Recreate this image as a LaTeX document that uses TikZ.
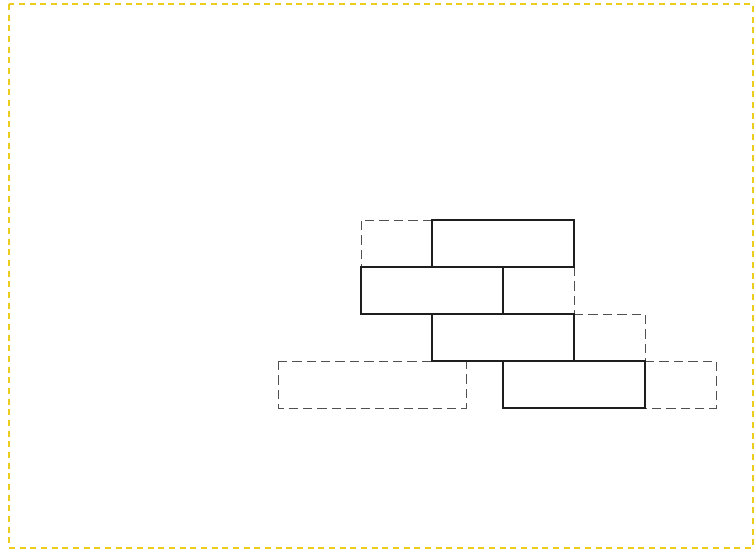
\documentclass[tikz,border=0pt]{standalone}
\usepackage{xcolor}
\usepackage{tikz}
\definecolor{AmarilloMarco}{RGB}{236,204,30}
\definecolor{GrisHueco}{RGB}{80,80,80}
\definecolor{NegroLadrillo}{RGB}{30,30,30}

\begin{document}
\begin{tikzpicture}[x=0.75pt,y=-0.75pt]
  \useasboundingbox (0,0) rectangle (756,554);
  \draw[AmarilloMarco,line width=1.5pt,dash pattern=on 4.5pt off 3.5pt]
       (9,4) rectangle (753,548);

  % huecos (dashed)
  \draw[GrisHueco,line width=0.7pt,dash pattern=on 7pt off 3.8pt]
       (432,220) -- (361,220) -- (361,267);
  \draw[GrisHueco,line width=0.7pt,dash pattern=on 7pt off 3.8pt]
       (574,267) -- (574,314);
  \draw[GrisHueco,line width=0.7pt,dash pattern=on 7pt off 3.8pt]
       (574,314) -- (645,314) -- (645,361);
  \draw[GrisHueco,line width=0.7pt,dash pattern=on 7pt off 3.8pt]
       (645,361) -- (716,361) -- (716,408) -- (645,408);
  \draw[GrisHueco,line width=0.7pt,dash pattern=on 7pt off 3.8pt]
       (278,361) rectangle (466,408);

  % ladrillos
  \draw[NegroLadrillo,line width=1.5pt] (432,220) rectangle (574,267);
  \draw[NegroLadrillo,line width=1.5pt] (361,267) rectangle (503,314);
  \draw[NegroLadrillo,line width=1.5pt] (432,314) rectangle (574,361);
  \draw[NegroLadrillo,line width=1.5pt] (503,361) rectangle (645,408);
\end{tikzpicture}
\end{document}
